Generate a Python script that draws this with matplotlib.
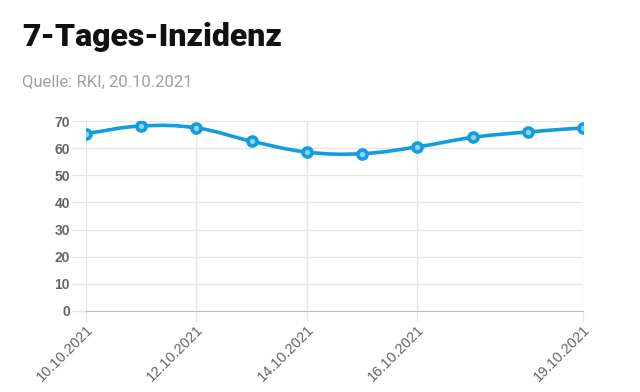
import numpy as np
import matplotlib
matplotlib.use('Agg')
import matplotlib.pyplot as plt
from matplotlib.path import Path
from matplotlib.patches import PathPatch

dates = ['10.10.2021', '11.10.2021', '12.10.2021', '13.10.2021', '14.10.2021',
         '15.10.2021', '16.10.2021', '17.10.2021', '18.10.2021', '19.10.2021']
incidence = [65.4, 68.2, 67.5, 62.6, 58.6, 58.0, 60.5, 64.0, 66.0, 67.5]
shown_ticks = [0, 2, 4, 6, 9]
y_ticks = [0, 10, 20, 30, 40, 50, 60, 70]

LINE = '#109ee0'
GRID = '#e6e6e6'


def spline_path(ax, x, y, tension=0.4):
	# bezier control points like chart.js, computed in pixel space
	pts = ax.transData.transform(np.column_stack([x, y]))
	n = len(pts)
	verts = [pts[0]]
	codes = [Path.MOVETO]
	cps = []
	for i in range(n):
		prev = pts[max(i - 1, 0)]
		cur = pts[i]
		nxt = pts[min(i + 1, n - 1)]
		d01 = np.hypot(*(cur - prev))
		d12 = np.hypot(*(nxt - cur))
		tot = d01 + d12 if d01 + d12 > 0 else 1
		fa = tension * d01 / tot
		fb = tension * d12 / tot
		cps.append((cur - fa * (nxt - prev), cur + fb * (nxt - prev)))
	for i in range(1, n):
		verts += [cps[i - 1][1], cps[i][0], pts[i]]
		codes += [Path.CURVE4] * 3
	verts = ax.transData.inverted().transform(np.array(verts))
	return Path(verts, codes)


fig = plt.figure(figsize=(6.4, 3.92), dpi=100)
ax = fig.add_axes([0.134, 0.207, 0.777, 0.484])

xs = np.arange(len(dates))
ax.set_xlim(0, len(dates) - 1)
ax.set_ylim(0, 70)

ax.add_patch(PathPatch(spline_path(ax, xs, incidence), fill=False,
                       edgecolor=LINE, lw=2.6, zorder=3))
ax.plot(xs, incidence, 'o', ms=6.5, mfc='#8fd3f2', mec=LINE, mew=2.6, zorder=4)

ax.set_yticks(y_ticks)
ax.set_xticks(xs[shown_ticks])
ax.set_xticklabels([dates[i] for i in shown_ticks], rotation=45, ha='right',
                   rotation_mode='anchor', fontsize=10.5, color='#666666',
                   family='Liberation Sans')
ax.set_yticklabels([str(v) for v in y_ticks], fontsize=10, color='#666666',
                   fontweight='bold', family='Liberation Sans')
ax.tick_params(axis='both', color=GRID, width=1)
ax.tick_params(axis='x', length=7, pad=1.5)
ax.tick_params(axis='y', length=10, pad=1.5)
ax.grid(True, color=GRID, lw=1)
for s in ['top', 'right', 'left']:
	ax.spines[s].set_visible(False)
ax.spines['bottom'].set_color('#bbbbbb')
ax.set_axisbelow(True)

fig.text(0.034, 0.882, '7-Tages-Inzidenz', fontsize=23, fontweight='black',
         family='Roboto', color='#111111')
fig.text(0.034, 0.778, 'Quelle: RKI, 20.10.2021', fontsize=12,
         family='Roboto', color='#a0a0a0')

fig.savefig('out.png', dpi=100)
